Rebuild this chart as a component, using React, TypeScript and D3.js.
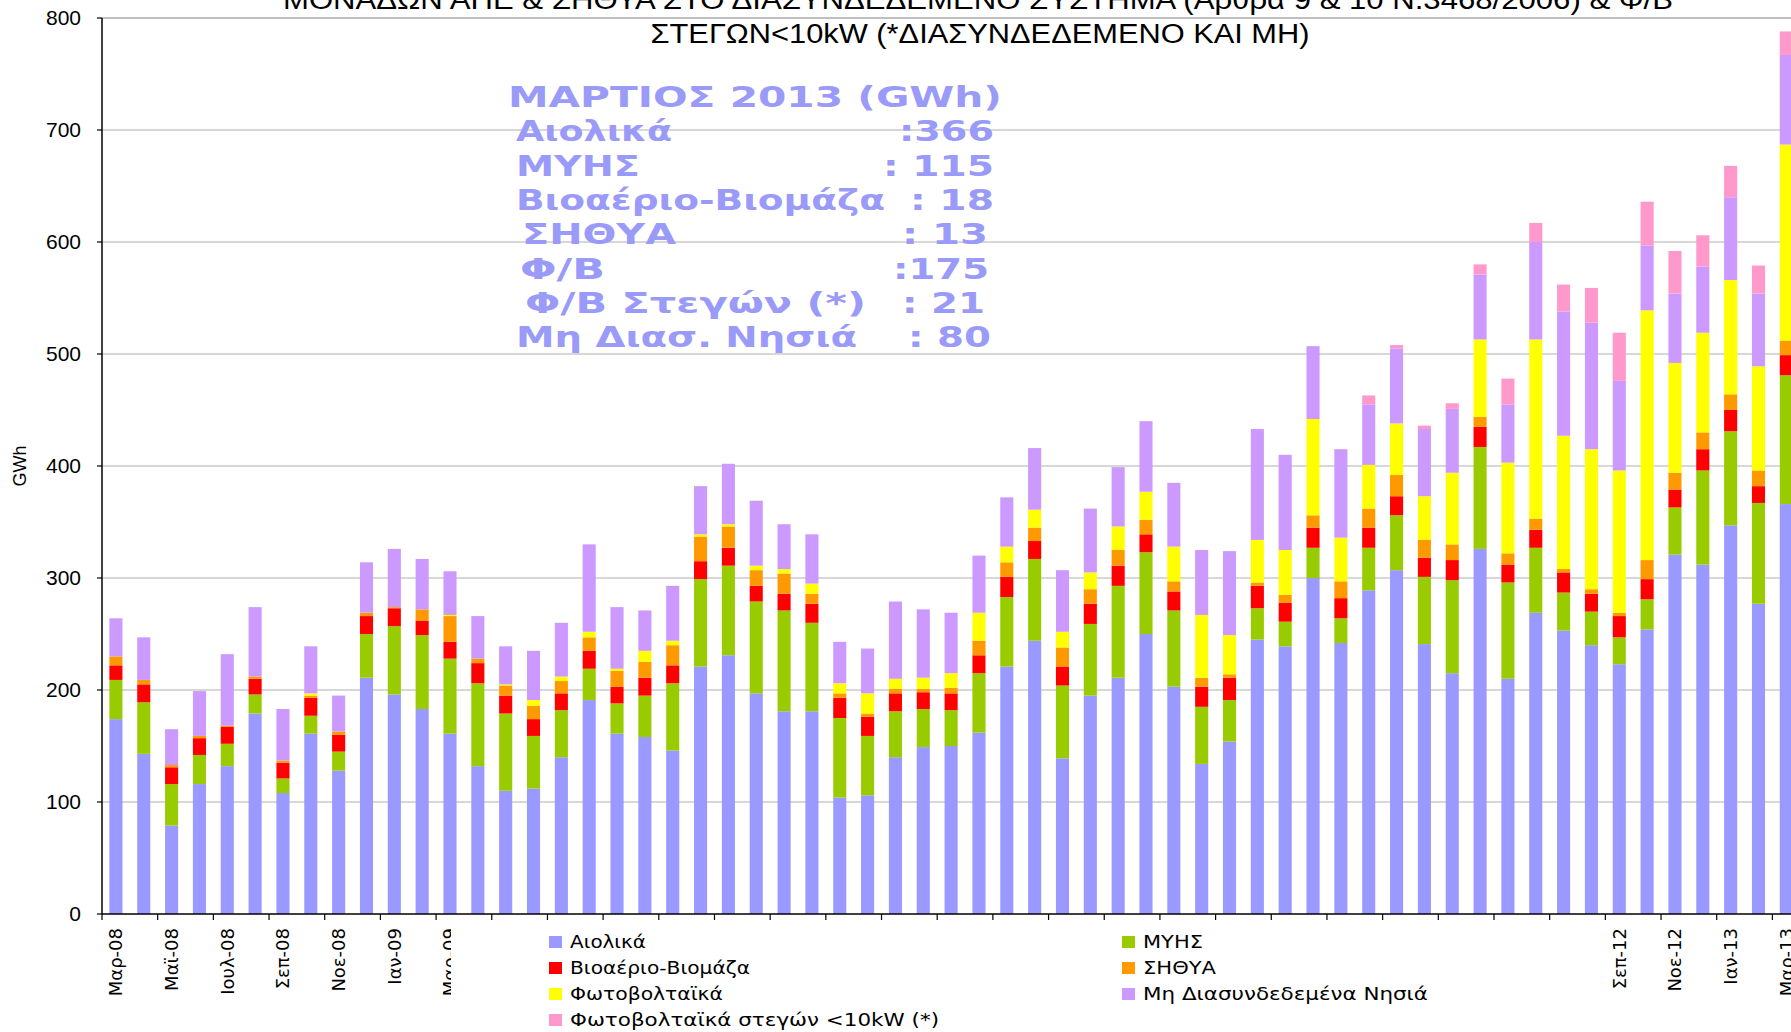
import React from "react";
import * as d3 from "d3";

const months = [
  "Μαρ-08","Απρ-08","Μαϊ-08","Ιουν-08","Ιουλ-08","Αυγ-08","Σεπ-08","Οκτ-08","Νοε-08","Δεκ-08",
  "Ιαν-09","Φεβ-09","Μαρ-09","Απρ-09","Μαϊ-09","Ιουν-09","Ιουλ-09","Αυγ-09","Σεπ-09","Οκτ-09","Νοε-09","Δεκ-09",
  "Ιαν-10","Φεβ-10","Μαρ-10","Απρ-10","Μαϊ-10","Ιουν-10","Ιουλ-10","Αυγ-10","Σεπ-10","Οκτ-10","Νοε-10","Δεκ-10",
  "Ιαν-11","Φεβ-11","Μαρ-11","Απρ-11","Μαϊ-11","Ιουν-11","Ιουλ-11","Αυγ-11","Σεπ-11","Οκτ-11","Νοε-11","Δεκ-11",
  "Ιαν-12","Φεβ-12","Μαρ-12","Απρ-12","Μαϊ-12","Ιουν-12","Ιουλ-12","Αυγ-12","Σεπ-12","Οκτ-12","Νοε-12","Δεκ-12",
  "Ιαν-13","Φεβ-13","Μαρ-13",
];

const aiolika = [174,143,79,116,132,179,108,161,128,211,196,183,161,132,110,112,140,191,161,158,146,221,231,197,181,181,104,106,140,149,150,162,221,244,139,195,211,250,203,134,154,245,239,300,242,289,307,241,215,326,210,269,253,240,223,254,321,312,347,277,366];
const myhs = [35,46,37,26,20,17,13,16,17,39,61,66,67,74,69,47,42,28,27,37,60,78,80,82,90,79,71,53,41,34,32,53,62,73,65,64,82,73,68,51,37,28,22,27,22,38,49,60,83,91,86,58,34,30,24,27,42,84,84,90,115];
const bio = [13,16,15,15,15,14,14,16,15,16,16,13,15,18,16,15,15,16,15,16,16,16,16,14,15,17,18,17,16,15,15,16,18,16,17,18,18,16,17,18,20,20,17,18,18,18,17,17,18,18,16,16,18,16,19,18,16,19,19,15,18];
const sithya = [8,4,2,2,1,2,2,2,3,3,1,10,23,4,9,12,11,12,14,14,18,22,19,14,18,9,4,3,4,3,5,13,13,12,17,13,14,13,9,8,3,3,7,11,15,17,19,16,14,9,10,10,3,4,3,17,15,15,14,14,13];
const fv = [0,0,0,0,0,0,0,2,0,0,0,0,1,0,1,5,4,5,2,10,4,2,2,4,4,9,9,18,9,10,13,25,14,16,14,15,21,25,31,56,35,38,40,86,39,39,46,39,64,69,81,160,119,125,127,223,98,89,102,93,175];
const mhDias = [34,38,32,40,64,62,46,42,32,45,52,45,39,38,34,44,48,78,55,36,49,43,54,58,40,44,37,40,69,61,54,51,44,55,55,57,53,63,57,58,75,99,85,65,79,54,67,60,57,58,52,87,111,113,80,58,62,59,74,65,80];
const fvStegon = [0,0,0,0,0,0,0,0,0,0,0,0,0,0,0,0,0,0,0,0,0,0,0,0,0,0,0,0,0,0,0,0,0,0,0,0,0,0,0,0,0,0,0,0,0,8,3,3,5,9,23,17,24,31,43,39,38,28,28,25,21];

const seriesNames = [
  "Αιολικά","ΜΥΗΣ","Βιοαέριο-Βιομάζα","ΣΗΘΥΑ","Φωτοβολταϊκά","Μη Διασυνδεδεμένα Νησιά","Φωτοβολταϊκά στεγών <10kW (*)",
];
const seriesColors = ["#9999FF","#99CC00","#FF0000","#FF9900","#FFFF00","#CC99FF","#FF99CC"];
const yTicks = [0,100,200,300,400,500,600,700,800];

const titleLine1 = "ΜΟΝΑΔΩΝ ΑΠΕ & ΣΗΘΥΑ ΣΤΟ ΔΙΑΣΥΝΔΕΔΕΜΕΝΟ ΣΥΣΤΗΜΑ (Άρθρα 9 & 10 Ν.3468/2006) & Φ/Β";
const titleLine2 = "ΣΤΕΓΩΝ<10kW (*ΔΙΑΣΥΝΔΕΔΕΜΕΝΟ ΚΑΙ ΜΗ)";
const noteTitle = "ΜΑΡΤΙΟΣ 2013 (GWh)";
const noteLabels = ["Αιολικά","ΜΥΗΣ","Βιοαέριο-Βιομάζα","ΣΗΘΥΑ","Φ/Β","Φ/Β Στεγών (*)","Μη Διασ. Νησιά"];
const noteValues = [":366",": 115",": 18",": 13",":175",": 21",": 80"];

export default function App() {
  const W = 1791, H = 1032;
  const left = 102, bottom = 914, top = 18;
  const nCat = months.length;
  const step = 27.84;
  const x = d3.scaleBand<string>().domain(months).range([left, left + step * nCat]).paddingInner(0.53).paddingOuter(0.265);
  const y = d3.scaleLinear().domain([0, 800]).range([bottom, top]);

  const rows = months.map((m, i) => ({
    m,
    s0: aiolika[i], s1: myhs[i], s2: bio[i], s3: sithya[i], s4: fv[i], s5: mhDias[i], s6: fvStegon[i],
  }));
  const keys = ["s0","s1","s2","s3","s4","s5","s6"];
  const stacked = d3.stack<any>().keys(keys)(rows);

  const gridRight = W;
  const axisFont = "'Liberation Sans', Arial, sans-serif";
  const dejavu = "'DejaVu Sans', Verdana, sans-serif";

  const noteColor = "#9A9AF8";
  const noteRowH = 34.3;
  const noteBase = 107;
  const labelX = [516, 516, 516, 522, 520, 525, 516];
  const labelW = [156, 124, 369, 154, 85, 341, 341];
  const valEnd = [994, 994, 994, 988, 989, 985, 991];
  const valW = [95, 111, 84, 86, 96, 83, 83];

  const legendItems = [
    { i: 0, x: 549, y: 942, w: 76 },
    { i: 2, x: 549, y: 968, w: 180 },
    { i: 4, x: 549, y: 994, w: 153 },
    { i: 6, x: 549, y: 1020, w: 369 },
    { i: 1, x: 1122, y: 942, w: 60 },
    { i: 3, x: 1122, y: 968, w: 73 },
    { i: 5, x: 1122, y: 994, w: 285 },
  ];

  return (
    <svg width={W} height={H} style={{ position: "absolute", left: 0, top: 0, background: "#fff" }}>
      <rect x={0} y={0} width={W} height={H} fill="#fff" />
      {yTicks.filter((t) => t > 0).map((t) => (
        <line key={t} x1={left} x2={gridRight} y1={y(t)} y2={y(t)} stroke={t === 800 ? "#808080" : "#B0B0B0"} strokeWidth={1.2} />
      ))}
      {stacked.map((layer, li) => (
        <g key={li} fill={seriesColors[li]}>
          {layer.map((d, i) =>
            d[1] - d[0] > 0 ? (
              <rect key={i} x={x(months[i])} width={x.bandwidth()} y={y(d[1])} height={y(d[0]) - y(d[1])} />
            ) : null
          )}
        </g>
      ))}
      <line x1={left} x2={left} y1={top} y2={bottom} stroke="#000" strokeWidth={1.5} />
      <line x1={left} x2={W} y1={bottom} y2={bottom} stroke="#000" strokeWidth={1.5} />
      {yTicks.map((t) => (
        <g key={t}>
          <line x1={left - 5} x2={left} y1={y(t)} y2={y(t)} stroke="#000" strokeWidth={1.2} />
          <text x={81} y={y(t)} dy="0.35em" textAnchor="end" fontFamily={axisFont} fontSize={21} fill="#000">{t}</text>
        </g>
      ))}
      {months.map((m, i) =>
        i % 2 === 0 ? (
          <line key={m} x1={left + i * step} x2={left + i * step} y1={bottom} y2={bottom + 6} stroke="#000" strokeWidth={1.2} />
        ) : null
      )}
      {months.map((m, i) =>
        i % 2 === 0 ? (
          <text key={m} transform={`translate(${(x(m) as number) + x.bandwidth() / 2},${928}) rotate(-90)`} dy="0.35em" textAnchor="end" fontFamily={dejavu} fontSize={18} fill="#000">{m}</text>
        ) : null
      )}
      <text transform={`translate(26,466) rotate(-90)`} textAnchor="middle" fontFamily={axisFont} fontSize={18} fill="#000">GWh</text>

      <rect x={451} y={921} width={1142} height={111} fill="#fff" />
      {legendItems.map((it) => (
        <g key={it.i}>
          <rect x={it.x} y={it.y - 6} width={13} height={12} fill={seriesColors[it.i]} />
          <text x={it.x + 21} y={it.y} dy="0.36em" fontFamily={dejavu} fontSize={18} fill="#000" textLength={it.w} lengthAdjust="spacingAndGlyphs">{seriesNames[it.i]}</text>
        </g>
      ))}

      <text x={978} y={9} textAnchor="middle" fontFamily={axisFont} fontSize={27} fill="#000" textLength={1390} lengthAdjust="spacingAndGlyphs">{titleLine1}</text>
      <text x={980} y={43} textAnchor="middle" fontFamily={axisFont} fontSize={27} fill="#000" textLength={659} lengthAdjust="spacingAndGlyphs">{titleLine2}</text>

      <text x={508} y={noteBase} fontFamily={dejavu} fontWeight="bold" fontSize={29} fill={noteColor} textLength={494} lengthAdjust="spacingAndGlyphs">{noteTitle}</text>
      {noteLabels.map((l, i) => (
        <g key={l}>
          <text x={labelX[i]} y={noteBase + noteRowH * (i + 1)} fontFamily={dejavu} fontWeight="bold" fontSize={29} fill={noteColor} textLength={labelW[i]} lengthAdjust="spacingAndGlyphs">{l}</text>
          <text x={valEnd[i] - valW[i]} y={noteBase + noteRowH * (i + 1)} fontFamily={dejavu} fontWeight="bold" fontSize={29} fill={noteColor} textLength={valW[i]} lengthAdjust="spacingAndGlyphs">{noteValues[i]}</text>
        </g>
      ))}
    </svg>
  );
}
